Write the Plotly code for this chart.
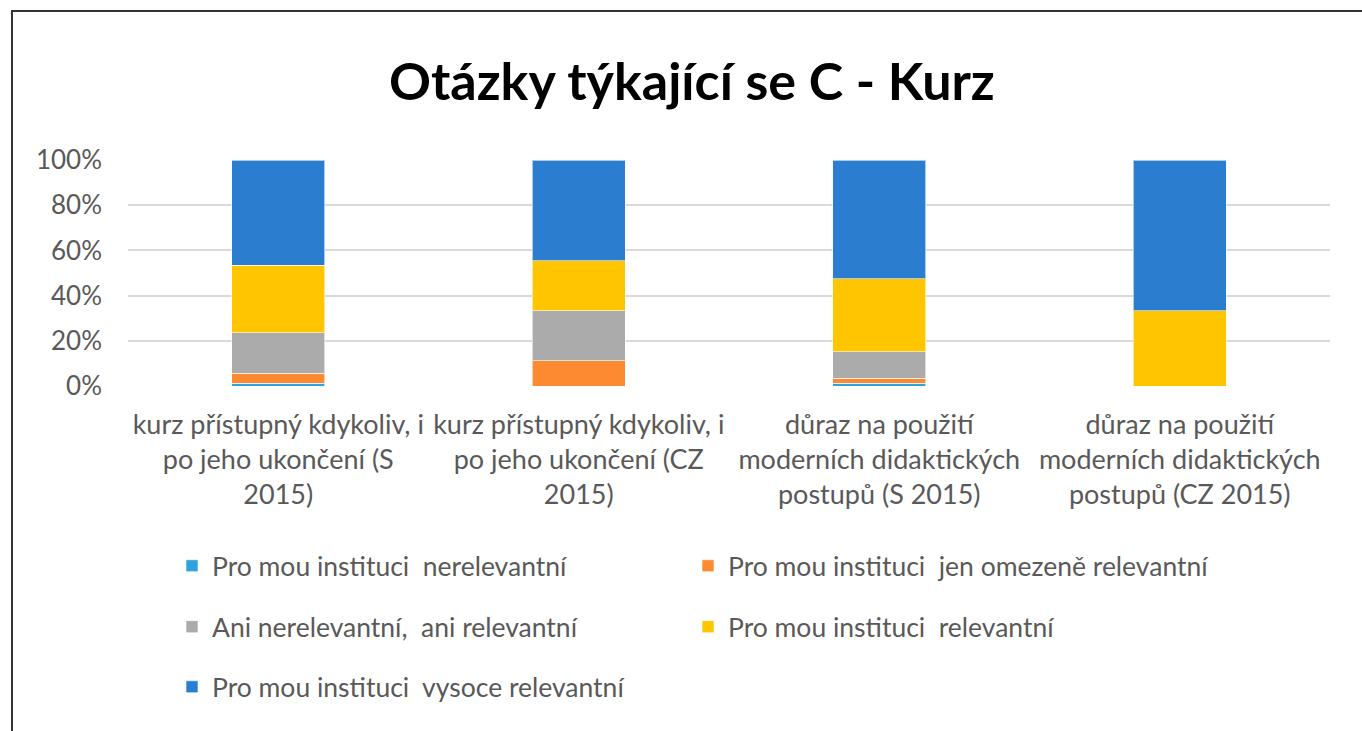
import plotly.graph_objects as go

categories = [
    "kurz přístupný kdykoliv, i<br>po jeho ukončení (S<br>2015)",
    "kurz přístupný kdykoliv, i<br>po jeho ukončení (CZ<br>2015)",
    "důraz na použití<br>moderních didaktických<br>postupů (S 2015)",
    "důraz na použití<br>moderních didaktických<br>postupů (CZ 2015)",
]
series_names = [
    "Pro mou instituci  nerelevantní",
    "Pro mou instituci  jen omezeně relevantní",
    "Ani nerelevantní,  ani relevantní",
    "Pro mou instituci  relevantní",
    "Pro mou instituci  vysoce relevantní",
]
nerelevantni = [1.3, 0.0, 1.3, 0.0]
omezene = [4.3, 11.1, 2.1, 0.0]
ani = [17.9, 22.2, 11.8, 0.0]
relevantni = [30.0, 22.2, 32.2, 33.3]
vysoce = [46.5, 44.5, 52.6, 66.7]
series_values = [nerelevantni, omezene, ani, relevantni, vysoce]
colors = ["#2FA3DE", "#FD8A31", "#ABABAB", "#FFC600", "#2B7DD0"]
tick_vals = [0, 20, 40, 60, 80, 100]
tick_text = ["0%", "20%", "40%", "60%", "80%", "100%"]

FONT = "Lato, Open Sans, sans-serif"

W, H = 1362, 731
L, R, T, B = 128, 32, 160, 345
pw, ph = W - L - R, H - T - B

def px_x(x):
    return (x - L) / pw

def px_y(y):
    return (H - B - y) / ph

# legend slot positions (pixels): two columns, three rows
legend_cols = [172, 688, 172, 688, 172]
legend_rows = [566, 566, 627, 627, 687]

fig = go.Figure()
layout_legends = {}
for i, (name, vals, col) in enumerate(zip(series_names, series_values, colors)):
    lid = "legend" if i == 0 else f"legend{i + 1}"
    fig.add_trace(go.Bar(
        x=categories, y=vals, name=name, marker_color=col,
        marker_line=dict(color="rgba(255,255,255,0.6)", width=1),
        width=0.31, legend=lid, showlegend=True,
    ))
    layout_legends[lid] = dict(
        x=px_x(legend_cols[i]), y=px_y(legend_rows[i]),
        orientation="h", xanchor="left", yanchor="middle", visible=True,
        font=dict(family=FONT, size=26.5, color="#595959"),
        bgcolor="rgba(0,0,0,0)", itemclick=False, itemdoubleclick=False,
    )

fig.update_layout(
    width=W, height=H, showlegend=True,
    margin=dict(l=L, r=R, t=T, b=B, autoexpand=False),
    paper_bgcolor="white", plot_bgcolor="white",
    barmode="stack", bargap=0.69,
    title=dict(text="<b>Otázky týkající se C - Kurz</b>", x=0.508, xanchor="center",
               y=1 - 82 / H, yanchor="middle",
               font=dict(family=FONT, size=52, color="#000000")),
    font=dict(family=FONT, size=27, color="#595959"),
    xaxis=dict(showgrid=False, showline=False, ticks="", automargin=False,
               ticklabelstandoff=20, tickfont=dict(size=27, color="#595959")),
    yaxis=dict(range=[0, 100], tickvals=tick_vals, ticktext=tick_text, automargin=False,
               gridcolor="#D9D9D9", gridwidth=2, zeroline=False, showline=False,
               ticks="", ticklabelstandoff=25, tickfont=dict(size=26, color="#595959")),
    shapes=[dict(type="rect", xref="paper", yref="paper",
                 x0=px_x(12), x1=px_x(1400), y0=px_y(760), y1=px_y(11),
                 line=dict(color="#333333", width=2), fillcolor="rgba(0,0,0,0)", layer="below")],
    **layout_legends,
)

fig.write_html("out.html", config={"displayModeBar": False},
               post_script="document.body.style.margin='0';document.body.style.overflow='hidden';")
